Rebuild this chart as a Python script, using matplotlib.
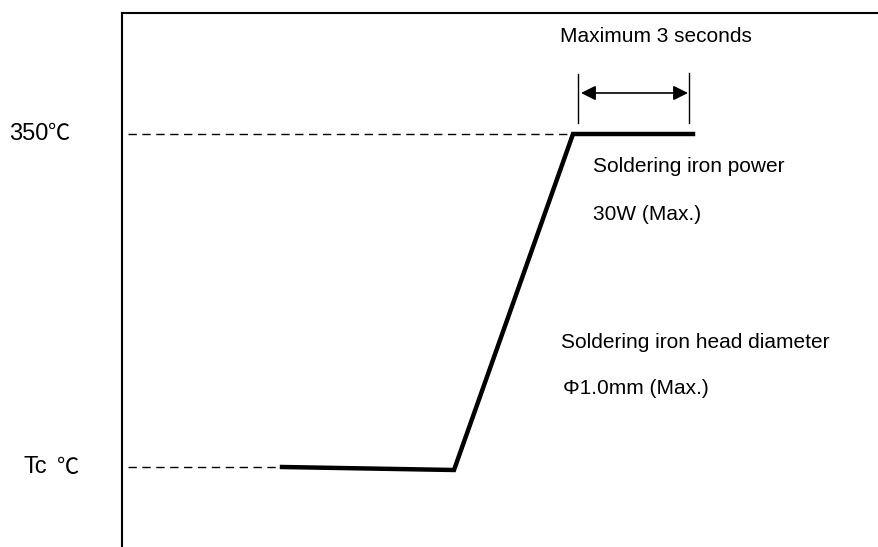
import matplotlib.pyplot as plt

plt.rcParams['font.family'] = ['Liberation Sans', 'Noto Sans CJK SC', 'DejaVu Sans']

# soldering profile (x: time units, y: temperature units, origin at the left axis / bottom)
profile_time = [160, 332, 451, 571]
profile_temp = [80, 77, 413, 413]

tc_level = 80
peak_level = 413
dwell_start = 456
dwell_end = 567

level_labels = ['350', 'Tc']
level_values = [peak_level, tc_level]
label_x = [-113, -99]
unit_x = [-74, -65]

notes = ['Soldering iron power', '30W (Max.)',
         'Soldering iron head diameter', 'Φ1.0mm (Max.)']
note_x = [471, 471, 439, 441]
note_y = [381, 332, 205, 158]

fs = 15

fig = plt.figure(figsize=(8.79, 5.47), dpi=100)
ax = fig.add_axes([122 / 879, 0, 757 / 879, 534 / 547])
ax.set_xlim(0, 757)
ax.set_ylim(0, 534)
ax.set_xticks([])
ax.set_yticks([])
ax.spines['right'].set_visible(False)
ax.spines['bottom'].set_visible(False)
ax.spines['left'].set_linewidth(1.5)
ax.spines['top'].set_linewidth(1.5)

# dashed reference levels
ax.plot([6, profile_time[2] - 1], [peak_level, peak_level], color='black',
        lw=1.0, linestyle=(0, (6, 4)))
ax.plot([6, profile_time[0] - 1], [tc_level, tc_level], color='black',
        lw=1.0, linestyle=(0, (6, 4)))

# profile
ax.plot(profile_time, profile_temp, color='black', lw=3.2, solid_joinstyle='miter')

# dwell marker
ax.plot([dwell_start, dwell_start], [424, 473], color='black', lw=1.0)
ax.plot([dwell_end, dwell_end], [424, 474], color='black', lw=1.0)
ax.annotate('', xy=(dwell_end - 1, 454), xytext=(dwell_start + 3, 454),
            arrowprops=dict(arrowstyle='<|-|>', color='black', lw=1.2,
                            mutation_scale=22, shrinkA=0, shrinkB=0))
ax.text(438, 510, 'Maximum 3 seconds', fontsize=fs, va='center', ha='left')

for lab, val, x0, xu in zip(level_labels, level_values, label_x, unit_x):
    ax.text(x0, val, lab, fontsize=17, va='center', ha='left', clip_on=False)
    ax.text(xu, val, '℃', fontsize=16, va='center', ha='left', clip_on=False,
            family='Noto Sans CJK SC', fontweight='light')

for txt, x, y in zip(notes, note_x, note_y):
    ax.text(x, y, txt, fontsize=fs, va='center', ha='left')

fig.savefig('out.png', dpi=100)
